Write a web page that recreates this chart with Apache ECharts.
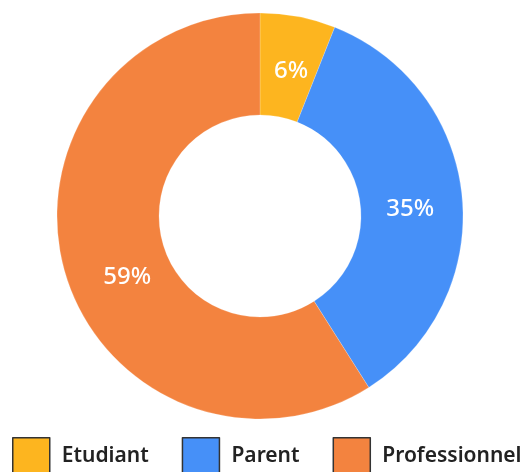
<!DOCTYPE html>
<html>
<head>
<meta charset="utf-8">
<script src="https://cdn.jsdelivr.net/npm/echarts@6/dist/echarts.min.js"></script>
<style>
html, body { margin: 0; padding: 0; background: #fff; }
#chart { width: 525px; height: 472px; }
</style>
</head>
<body>
<div id="chart"></div>
<script>
// categories and values
var categories = ['Etudiant', 'Parent', 'Professionnel'];
var values = [6, 35, 59];
var colors = ['#FDB51F', '#4690F8', '#F3833F'];
// nudge of each inside label, to sit where the original put it
var labelOffsets = [[2, 7], [-4, 8], [16, 18]];

var myChart = echarts.init(document.getElementById('chart'));

var pieData = categories.map(function (name, i) {
    return {
        name: name,
        value: values[i],
        itemStyle: { color: colors[i] },
        label: { offset: labelOffsets[i] }
    };
});

var option = {
    animation: false,
    backgroundColor: '#ffffff',
    legend: {
        data: categories,
        left: 12,
        top: 437,
        icon: 'rect',
        itemWidth: 37,
        itemHeight: 37,
        itemGap: 33,
        padding: 0,
        itemStyle: {
            borderColor: '#333333',
            borderWidth: 1.5
        },
        textStyle: {
            fontFamily: 'Noto Sans',
            fontSize: 21,
            fontWeight: 600,
            color: '#222222',
            padding: [0, 0, 0, 7]
        }
    },
    series: [
        {
            type: 'pie',
            center: [260, 216],
            radius: [101, 203],
            startAngle: 90,
            clockwise: true,
            label: {
                show: true,
                position: 'inside',
                formatter: '{d}%',
                color: '#ffffff',
                fontFamily: 'Noto Sans',
                fontSize: 24,
                fontWeight: 500
            },
            labelLine: { show: false },
            itemStyle: {
                borderColor: 'rgba(255,255,255,0.4)',
                borderWidth: 0.5
            },
            emphasis: { disabled: true },
            data: pieData
        }
    ]
};

myChart.setOption(option);
</script>
</body>
</html>
